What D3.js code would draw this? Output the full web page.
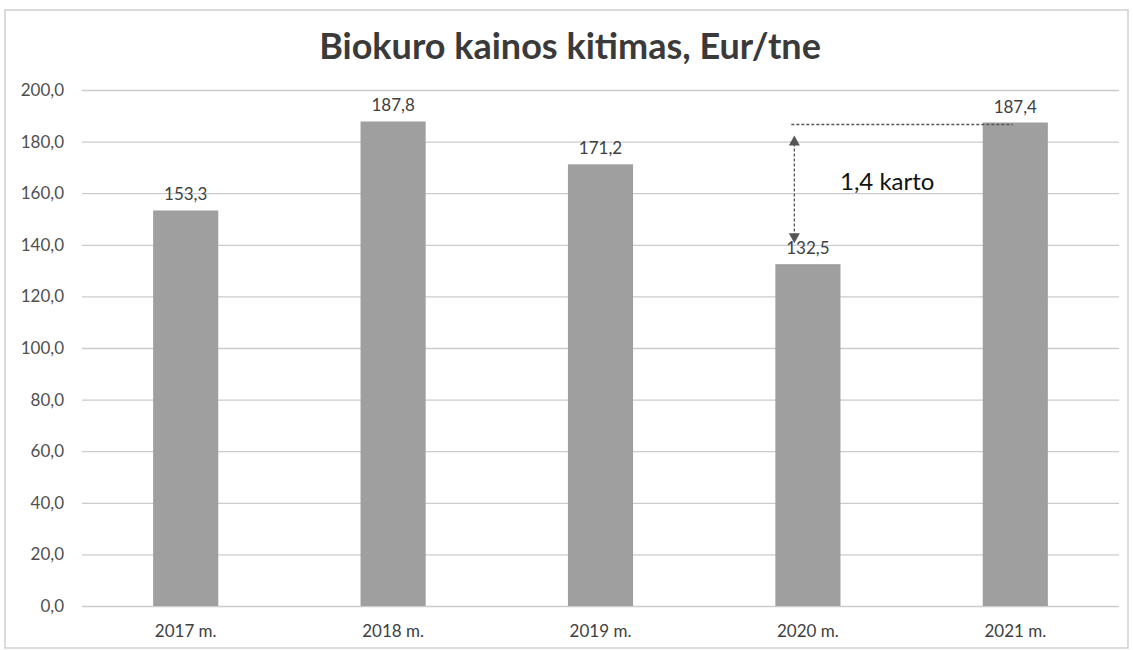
<!DOCTYPE html>
<html>
<head>
<meta charset="utf-8">
<script src="https://cdn.jsdelivr.net/npm/d3@7"></script>
<style>
  body { margin: 0; background: #fff; }
  text { font-family: Lato, "Open Sans", sans-serif; }
</style>
</head>
<body>
<script>
var years = ['2017 m.', '2018 m.', '2019 m.', '2020 m.', '2021 m.'];
var prices = [153.3, 187.8, 171.2, 132.5, 187.4];
var yTicks = [0, 20, 40, 60, 80, 100, 120, 140, 160, 180, 200];
var title = 'Biokuro kainos kitimas, Eur/tne';
var note = '1,4 karto';

var W = 1133, H = 650;
var plotL = 82, plotR = 1119, plotT = 90, plotB = 606;

var fmt = function(v) { return v.toFixed(1).replace('.', ','); };

var svg = d3.select('body').append('svg')
    .attr('width', W)
    .attr('height', H);

// frame round the chart
svg.append('rect')
  .attr('x', 5).attr('y', 10)
  .attr('width', 1123).attr('height', 638)
  .attr('fill', 'none')
  .attr('stroke', '#cfcfcf')
  .attr('stroke-width', 1.5);

var x = d3.scaleBand()
    .domain(years)
    .range([plotL, plotR])
    .paddingInner(0.686)
    .paddingOuter(0.343);

var y = d3.scaleLinear()
    .domain([0, 200])
    .range([plotB, plotT]);

svg.append('text')
  .attr('x', 570)
  .attr('y', 59)
  .attr('text-anchor', 'middle')
  .attr('font-size', 36)
  .attr('font-weight', 'bold')
  .attr('fill', '#3a3a3a')
  .text(title);

// gridlines + y labels
var yaxis = d3.axisLeft(y)
    .tickValues(yTicks)
    .tickSize(-(plotR - plotL))
    .tickPadding(18)
    .tickFormat(fmt);

var ya = svg.append('g')
  .attr('transform', 'translate(' + plotL + ',0)')
  .call(yaxis);
ya.select('.domain').remove();
ya.selectAll('line').attr('stroke', '#cccccc').attr('stroke-width', 1.3);
ya.selectAll('text')
  .attr('font-size', 17)
  .attr('fill', '#505050')
  .style('font-family', 'Lato, "Open Sans", sans-serif');

var xaxis = d3.axisBottom(x).tickSize(0).tickPadding(19);
var xa = svg.append('g')
  .attr('transform', 'translate(0,' + plotB + ')')
  .call(xaxis);
xa.select('.domain').remove();
xa.selectAll('text')
  .attr('font-size', 17)
  .attr('fill', '#404040')
  .style('font-family', 'Lato, "Open Sans", sans-serif');

var bars = svg.append('g');
bars.selectAll('rect')
  .data(prices)
  .enter().append('rect')
  .attr('x', function(d, i) { return x(years[i]); })
  .attr('y', function(d) { return y(d); })
  .attr('width', x.bandwidth())
  .attr('height', function(d) { return plotB - y(d); })
  .attr('fill', '#9f9f9f');

bars.selectAll('text')
  .data(prices)
  .enter().append('text')
  .attr('x', function(d, i) { return x(years[i]) + x.bandwidth() / 2; })
  .attr('y', function(d) { return y(d) - 10; })
  .attr('text-anchor', 'middle')
  .attr('font-size', 17)
  .attr('fill', '#404040')
  .text(fmt);

// annotation: ratio between 2020 and 2021
var ax = x(years[3]) + 19;
var topY = y(prices[4]) + 2;
svg.append('line')
  .attr('x1', ax - 3).attr('x2', x(years[4]) + 30)
  .attr('y1', topY).attr('y2', topY)
  .attr('stroke', '#555')
  .attr('stroke-width', 1.3)
  .attr('stroke-dasharray', '3,2');

var a1 = topY + 11, a2 = y(prices[3]) - 21;
svg.append('line')
  .attr('x1', ax).attr('x2', ax)
  .attr('y1', a1 + 8).attr('y2', a2 - 8)
  .attr('stroke', '#555')
  .attr('stroke-width', 1.3)
  .attr('stroke-dasharray', '3,2');

svg.append('path')
  .attr('d', 'M' + ax + ',' + a1 + 'l-5.5,10h11z')
  .attr('fill', '#555');
svg.append('path')
  .attr('d', 'M' + ax + ',' + a2 + 'l-5.5,-10h11z')
  .attr('fill', '#555');

svg.append('text')
  .attr('x', 840)
  .attr('y', 190)
  .attr('font-size', 24)
  .attr('fill', '#111')
  .text(note);
</script>
</body>
</html>
